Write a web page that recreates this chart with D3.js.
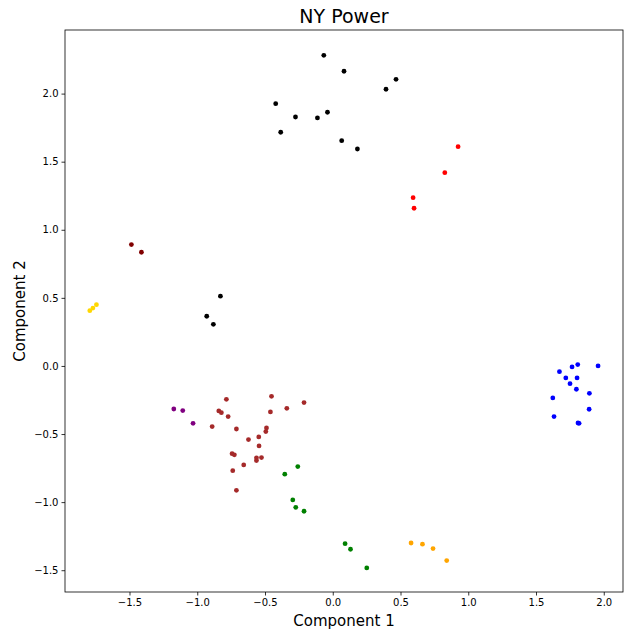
<!DOCTYPE html>
<html>
<head>
<meta charset="utf-8">
<script src="https://cdn.jsdelivr.net/npm/d3@7"></script>
<style>
  body { margin: 0; background: #fff; }
  svg text { font-family: "DejaVu Sans", sans-serif; }
</style>
</head>
<body>
<div id="chart"></div>
<script>
// groups of points: [component 1, component 2]
const blackPts = [
  [-0.066, 2.281], [0.083, 2.164], [0.467, 2.105], [0.393, 2.032], [-0.421, 1.926],
  [-0.275, 1.828], [-0.113, 1.821], [-0.039, 1.863], [-0.384, 1.716], [0.066, 1.654],
  [0.182, 1.593], [-0.829, 0.512], [-0.930, 0.365], [-0.881, 0.306]
];
const redPts = [[0.925, 1.610], [0.827, 1.419], [0.593, 1.236], [0.600, 1.158]];
const darkredPts = [[-1.486, 0.891], [-1.412, 0.835]];
const goldPts = [[-1.793, 0.406], [-1.770, 0.425], [-1.744, 0.450]];
const bluePts = [
  [1.808, 0.010], [1.766, -0.007], [1.958, 0.000], [1.673, -0.042], [1.720, -0.088],
  [1.803, -0.088], [1.751, -0.130], [1.798, -0.171], [1.894, -0.201], [1.624, -0.235],
  [1.892, -0.318], [1.633, -0.372], [1.810, -0.419], [1.818, -0.421]
];
const purplePts = [[-1.173, -0.316], [-1.107, -0.328], [-1.031, -0.421]];
const brownPts = [
  [-0.785, -0.245], [-0.841, -0.330], [-0.822, -0.343], [-0.772, -0.372], [-0.890, -0.445],
  [-0.711, -0.463], [-0.452, -0.223], [-0.460, -0.338], [-0.339, -0.311], [-0.212, -0.269],
  [-0.489, -0.455], [-0.494, -0.482], [-0.622, -0.541], [-0.546, -0.521], [-0.544, -0.587],
  [-0.743, -0.644], [-0.726, -0.653], [-0.563, -0.675], [-0.563, -0.695], [-0.526, -0.673],
  [-0.657, -0.727], [-0.738, -0.769], [-0.711, -0.913]
];
const greenPts = [
  [-0.258, -0.739], [-0.354, -0.795], [-0.295, -0.984], [-0.273, -1.038], [-0.212, -1.067],
  [0.091, -1.305], [0.131, -1.346], [0.251, -1.483]
];
const orangePts = [[0.578, -1.300], [0.662, -1.309], [0.740, -1.341], [0.841, -1.429]];

const groups = [
  { color: "black", pts: blackPts },
  { color: "red", pts: redPts },
  { color: "#800000", pts: darkredPts },
  { color: "gold", pts: goldPts },
  { color: "blue", pts: bluePts },
  { color: "purple", pts: purplePts },
  { color: "brown", pts: brownPts },
  { color: "green", pts: greenPts },
  { color: "orange", pts: orangePts }
];

const xTicks = [-1.5, -1.0, -0.5, 0.0, 0.5, 1.0, 1.5, 2.0];
const yTicks = [-1.5, -1.0, -0.5, 0.0, 0.5, 1.0, 1.5, 2.0];

const W = 625, H = 632;
const margin = { top: 30, right: 2, bottom: 40, left: 65 };
const width = W - margin.left - margin.right,
      height = H - margin.top - margin.bottom;

const svg = d3.select("#chart").append("svg")
  .attr("width", W)
  .attr("height", H);

const g = svg.append("g")
  .attr("transform", `translate(${margin.left},${margin.top})`);

const x = d3.scaleLinear().domain([-1.976, 2.142]).range([0, width]);
const y = d3.scaleLinear().domain([-1.660, 2.467]).range([height, 0]);

const fmt = d3.format(".1f");

const xAxis = g.append("g")
  .attr("transform", `translate(0,${height})`)
  .call(d3.axisBottom(x).tickValues(xTicks).tickFormat(fmt).tickSize(3.5).tickPadding(3));

const yAxis = g.append("g")
  .call(d3.axisLeft(y).tickValues(yTicks).tickFormat(fmt).tickSize(3.5).tickPadding(3));

[xAxis, yAxis].forEach(a => {
  a.select(".domain").remove();
  a.selectAll("text").attr("font-size", 10).attr("fill", "#000")
    .style("font-family", "'DejaVu Sans', sans-serif");
  a.selectAll("line").attr("stroke", "#000").attr("stroke-width", 0.8);
});

// frame
g.append("rect")
  .attr("width", width)
  .attr("height", height)
  .attr("fill", "none")
  .attr("stroke", "#000")
  .attr("stroke-width", 0.8);

// points
groups.forEach(grp => {
  g.selectAll(null)
    .data(grp.pts)
    .enter().append("circle")
    .attr("cx", d => x(d[0]))
    .attr("cy", d => y(d[1]))
    .attr("r", 2.4)
    .attr("fill", grp.color);
});

// title and labels
svg.append("text")
  .attr("x", margin.left + width / 2)
  .attr("y", 23)
  .attr("text-anchor", "middle")
  .attr("font-size", 19)
  .text("NY Power");

svg.append("text")
  .attr("x", margin.left + width / 2)
  .attr("y", 626)
  .attr("text-anchor", "middle")
  .attr("font-size", 15)
  .text("Component 1");

svg.append("text")
  .attr("transform", `translate(25,${margin.top + height / 2}) rotate(-90)`)
  .attr("text-anchor", "middle")
  .attr("font-size", 15)
  .text("Component 2");
</script>
</body>
</html>
